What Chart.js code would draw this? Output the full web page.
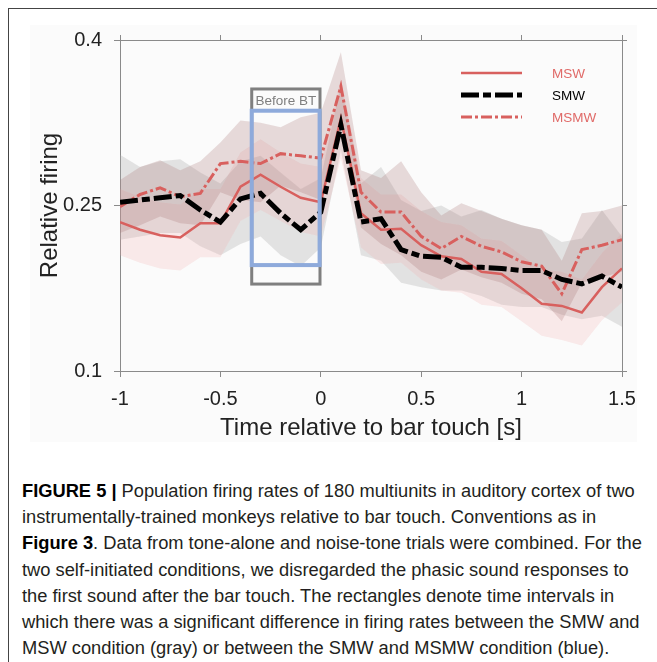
<!DOCTYPE html>
<html>
<head>
<meta charset="utf-8">
<title>Figure 5</title>
<script src="https://cdn.jsdelivr.net/npm/chart.js@4.4.1/dist/chart.umd.min.js"></script>
<style>
body{margin:0;background:#fff;width:657px;height:662px;overflow:hidden;position:relative;font-family:"Liberation Sans",Arial,sans-serif;}
#frame{position:absolute;left:8px;top:8px;width:649px;height:654px;border-left:1px solid #444;border-top:1px solid #444;}
#fig{position:absolute;left:30px;top:25px;width:607px;height:417px;background:#fbfbfb;}
#box{position:absolute;left:0;top:0;}
#caption{position:absolute;left:22px;top:478px;font-family:"Liberation Sans",Arial,sans-serif;font-size:18.3px;line-height:26.2px;color:#231f20;white-space:nowrap;}
#caption b{color:#000;}
</style>
</head>
<body>
<div id="frame"></div>
<div id="fig"></div>
<canvas id="box" width="657" height="450"></canvas>
<div id="caption">
<b>FIGURE 5 |</b> Population firing rates of 180 multiunits in auditory cortex of two<br>
instrumentally-trained monkeys relative to bar touch. Conventions as in<br>
<b>Figure 3</b>. Data from tone-alone and noise-tone trials were combined. For the<br>
two self-initiated conditions, we disregarded the phasic sound responses to<br>
the first sound after the bar touch. The rectangles denote time intervals in<br>
which there was a significant difference in firing rates between the SMW and<br>
MSW condition (gray) or between the SMW and MSMW condition (blue).
</div>
<script>
// time bins (s), relative to bar touch
var times = [-1, -0.9, -0.8, -0.7, -0.6, -0.5, -0.4, -0.3, -0.2, -0.1, 0, 0.1, 0.2, 0.3, 0.4, 0.5, 0.6, 0.7, 0.8, 0.9, 1.0, 1.1, 1.2, 1.3, 1.4, 1.5];

var msw      = [0.235, 0.228, 0.223, 0.221, 0.234, 0.234, 0.267, 0.278, 0.267, 0.257, 0.253, 0.329, 0.243, 0.228, 0.229, 0.214, 0.204, 0.2015, 0.190, 0.188, 0.175, 0.161, 0.159, 0.153, 0.176, 0.193];
var mswHi    = [0.265, 0.258, 0.253, 0.251, 0.265, 0.265, 0.298, 0.310, 0.298, 0.288, 0.285, 0.365, 0.275, 0.260, 0.260, 0.245, 0.235, 0.232, 0.220, 0.218, 0.205, 0.192, 0.190, 0.183, 0.207, 0.225];
var mswLo    = [0.205, 0.198, 0.193, 0.191, 0.203, 0.203, 0.236, 0.246, 0.236, 0.226, 0.222, 0.293, 0.212, 0.197, 0.198, 0.183, 0.173, 0.171, 0.160, 0.158, 0.145, 0.132, 0.128, 0.123, 0.146, 0.162];

var smw      = [0.253, 0.255, 0.257, 0.259, 0.246, 0.235, 0.256, 0.261, 0.243, 0.228, 0.244, 0.323, 0.235, 0.238, 0.210, 0.204, 0.203, 0.194, 0.194, 0.193, 0.191, 0.191, 0.183, 0.179, 0.186, 0.176];
var smwHi    = [0.296, 0.285, 0.290, 0.292, 0.280, 0.270, 0.290, 0.295, 0.280, 0.265, 0.275, 0.360, 0.270, 0.285, 0.255, 0.245, 0.250, 0.240, 0.246, 0.238, 0.232, 0.228, 0.217, 0.220, 0.246, 0.222];
var smwLo    = [0.219, 0.222, 0.225, 0.225, 0.213, 0.205, 0.215, 0.222, 0.205, 0.195, 0.212, 0.300, 0.205, 0.200, 0.180, 0.176, 0.173, 0.173, 0.168, 0.160, 0.158, 0.158, 0.151, 0.147, 0.150, 0.140];

var msmw     = [0.249, 0.260, 0.266, 0.258, 0.261, 0.288, 0.290, 0.288, 0.297, 0.295, 0.293, 0.358, 0.262, 0.244, 0.244, 0.222, 0.211, 0.222, 0.213, 0.208, 0.199, 0.195, 0.170, 0.210, 0.214, 0.219];
var msmwHi   = [0.273, 0.285, 0.291, 0.282, 0.290, 0.307, 0.327, 0.325, 0.321, 0.330, 0.334, 0.389, 0.282, 0.275, 0.290, 0.262, 0.241, 0.252, 0.245, 0.238, 0.232, 0.228, 0.200, 0.243, 0.245, 0.250];
var msmwLo   = [0.225, 0.232, 0.240, 0.234, 0.232, 0.262, 0.255, 0.253, 0.268, 0.262, 0.255, 0.325, 0.230, 0.215, 0.205, 0.190, 0.183, 0.192, 0.185, 0.180, 0.170, 0.165, 0.145, 0.180, 0.185, 0.190];

var xTicks = [-1, -0.5, 0, 0.5, 1, 1.5];
var yTicks = [0.1, 0.25, 0.4];

// significance windows [t0, t1, yLow, yHigh]
var grayBox = [-0.344, -0.004, 0.1788, 0.3556];
var blueBox = [-0.344, -0.006, 0.196, 0.3359];

var red = '#d8605e';
var axisGray = '#8a8a8a';

function pts(vals) {
	var out = [];
	for (var i = 0; i < times.length; i++) out.push({x: times[i], y: vals[i]});
	return out;
}
function band(vals, fill) {
	return {data: pts(vals), borderWidth: 0, pointRadius: 0, fill: fill ? '-1' : false, backgroundColor: fill || 'transparent'};
}
function setTicks(list) {
	return function(s) { s.ticks = list.map(function(v) { return {value: v}; }); };
}
function plain(v) { return String(v); }

var lineSMW  = {label: 'SMW',  data: pts(smw),  borderColor: '#000', borderWidth: 5, borderDash: [18, 4, 8, 4], pointRadius: 0, fill: false, textColor: '#000'};
var lineMSW  = {label: 'MSW',  data: pts(msw),  borderColor: red, borderWidth: 2.5, borderDash: [], pointRadius: 0, fill: false, textColor: '#e06a68'};
var lineMSMW = {label: 'MSMW', data: pts(msmw), borderColor: red, borderWidth: 3, borderDash: [11, 3, 3, 3], pointRadius: 0, fill: false, textColor: '#e06a68'};

var extras = {
	id: 'extras',
	afterDatasetsDraw: function(chart) {
		var ctx = chart.ctx, xs = chart.scales.x, ys = chart.scales.y, a = chart.chartArea;
		function rect(b, col, w) {
			var x0 = xs.getPixelForValue(b[0]), x1 = xs.getPixelForValue(b[1]);
			var y0 = ys.getPixelForValue(b[3]), y1 = ys.getPixelForValue(b[2]);
			ctx.strokeStyle = col; ctx.lineWidth = w;
			ctx.strokeRect(x0, y0, x1 - x0, y1 - y0);
			return [x0, y0, x1];
		}
		ctx.save();
		var g = rect(grayBox, '#7f7f7f', 3);
		ctx.fillStyle = '#7f7f7f';
		ctx.font = '13.5px "Liberation Sans", Arial';
		ctx.textAlign = 'center'; ctx.textBaseline = 'middle';
		ctx.fillText('Before BT', (g[0] + g[2]) / 2, g[1] + 12.5);
		rect(blueBox, '#8eaadb', 4);

		// legend
		var items = [lineMSW, lineSMW, lineMSMW];
		for (var i = 0; i < items.length; i++) {
			var d = items[i], y = a.top + 33 + i * 22;
			ctx.beginPath();
			ctx.strokeStyle = d.borderColor; ctx.lineWidth = d.borderWidth;
			ctx.setLineDash(d.borderDash);
			ctx.moveTo(a.left + 341, y); ctx.lineTo(a.left + 402, y);
			ctx.stroke();
			ctx.setLineDash([]);
			ctx.fillStyle = d.textColor;
			ctx.font = '13.5px "Liberation Sans", Arial';
			ctx.textAlign = 'left';
			ctx.fillText(d.label, a.left + 432, y + 1);
		}
		ctx.restore();
	}
};

var tickFont = {family: '"Liberation Sans", Arial', size: 20};
var titleFont = {family: '"Liberation Sans", Arial', size: 24};

new Chart(document.getElementById('box'), {
	type: 'line',
	data: {
		datasets: [
			lineSMW, lineMSW, lineMSMW,
			band(msmwHi), band(msmwLo, 'rgba(170,120,120,0.26)'),
			band(mswHi), band(mswLo, 'rgba(240,170,170,0.22)'),
			band(smwHi), band(smwLo, 'rgba(170,170,170,0.30)')
		]
	},
	options: {
		responsive: false,
		animation: false,
		layout: {padding: 0},
		plugins: {
			legend: {display: false},
			tooltip: {enabled: false},
			filler: {drawTime: 'beforeDatasetsDraw'}
		},
		elements: {line: {tension: 0, borderCapStyle: 'butt', borderJoinStyle: 'miter'}},
		scales: {
			x: {
				type: 'linear', position: 'bottom', min: -1, max: 1.5,
				afterBuildTicks: setTicks(xTicks),
				ticks: {font: tickFont, color: '#222', padding: 10, maxRotation: 0, callback: plain},
				grid: {drawOnChartArea: false, tickLength: 6, color: axisGray},
				border: {color: axisGray},
				title: {display: true, text: 'Time relative to bar touch [s]', font: titleFont, color: '#222', padding: {top: 2, bottom: 7}},
				afterFit: function(s) { s.height = 79; }
			},
			x2: {
				type: 'linear', position: 'top', min: -1, max: 1.5,
				afterBuildTicks: setTicks(xTicks),
				ticks: {display: false},
				grid: {drawOnChartArea: false, tickLength: 5, color: axisGray},
				border: {color: axisGray},
				afterFit: function(s) { s.height = 40; }
			},
			y: {
				type: 'linear', position: 'left', min: 0.1, max: 0.4,
				afterBuildTicks: setTicks(yTicks),
				ticks: {font: tickFont, color: '#222', padding: 12, callback: plain},
				grid: {drawOnChartArea: false, tickLength: 6, color: axisGray},
				border: {color: axisGray},
				title: {display: true, text: 'Relative firing', font: titleFont, color: '#222', padding: {top: 36, bottom: 0}},
				afterFit: function(s) { s.width = 120; }
			},
			y2: {
				type: 'linear', position: 'right', min: 0.1, max: 0.4,
				afterBuildTicks: setTicks(yTicks),
				ticks: {display: false},
				grid: {drawOnChartArea: false, tickLength: 5, color: axisGray},
				border: {color: axisGray},
				afterFit: function(s) { s.width = 35; }
			}
		}
	},
	plugins: [extras]
});
</script>
</body>
</html>
